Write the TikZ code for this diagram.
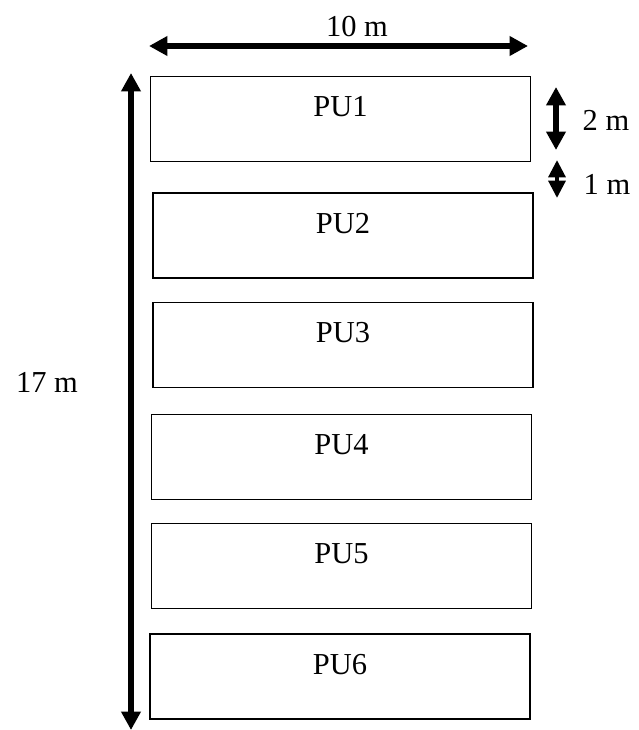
\documentclass[tikz,border=0pt]{standalone}
\usepackage{fontspec}
\setmainfont{Liberation Serif}
\usetikzlibrary{arrows.meta}

\begin{document}
\begin{tikzpicture}[x=0.03cm, y=-0.03cm,
	plot/.style = {draw, line width=0.9pt, minimum width=11.4cm, minimum height=2.55cm, inner sep=0pt},
	dim/.style = {line width=4.4pt, {Triangle[length=0.55cm,width=0.56cm]}-{Triangle[length=0.55cm,width=0.56cm]}},
	lbl/.style = {font=\fontsize{26}{31}\selectfont, inner sep=0pt}]
	\useasboundingbox (0,0) rectangle (638,730);
	% plots
	\node[plot] (pu1) at (340.5,119) {};
	\node[plot] (pu2) at (343,235.5) {};
	\node[plot] (pu3) at (343,345) {};
	\node[plot] (pu4) at (341.5,457) {};
	\node[plot] (pu5) at (341.5,566) {};
	\node[plot] (pu6) at (340,676.5) {};
	\node[lbl] (t1) at ([yshift=0.36cm]pu1.center) {PU1};
	\node[lbl] (t2) at ([yshift=0.36cm]pu2.center) {PU2};
	\node[lbl] (t3) at ([yshift=0.36cm]pu3.center) {PU3};
	\node[lbl] (t4) at ([yshift=0.36cm]pu4.center) {PU4};
	\node[lbl] (t5) at ([yshift=0.36cm]pu5.center) {PU5};
	\node[lbl] (t6) at ([yshift=0.36cm]pu6.center) {PU6};
	% dimensions
	\coordinate (wl) at (149,46);
	\coordinate (wr) at (528,46);
	\coordinate (lt) at (131,73);
	\coordinate (lb) at (131,730);
	\coordinate (at) at (556,87);
	\coordinate (ab) at (556,150);
	\coordinate (gt) at (557,160);
	\coordinate (gb) at (557,198);
	\draw[dim] (wl) -- (wr);
	\draw[dim, line width=5pt] (lt) -- (lb);
	\draw[dim] (at) -- (ab);
	\draw[line width=3.5pt, {Triangle[length=0.52cm,width=0.5cm]}-{Triangle[length=0.52cm,width=0.5cm]}] (gt) -- (gb);
	\node[lbl] (w) at (357,27) {10 m};
	\node[lbl] (l) at (47,382) {17 m};
	\node[lbl] (a) at (606,120) {2 m};
	\node[lbl] (g) at (607,184) {1 m};
\end{tikzpicture}
\end{document}
